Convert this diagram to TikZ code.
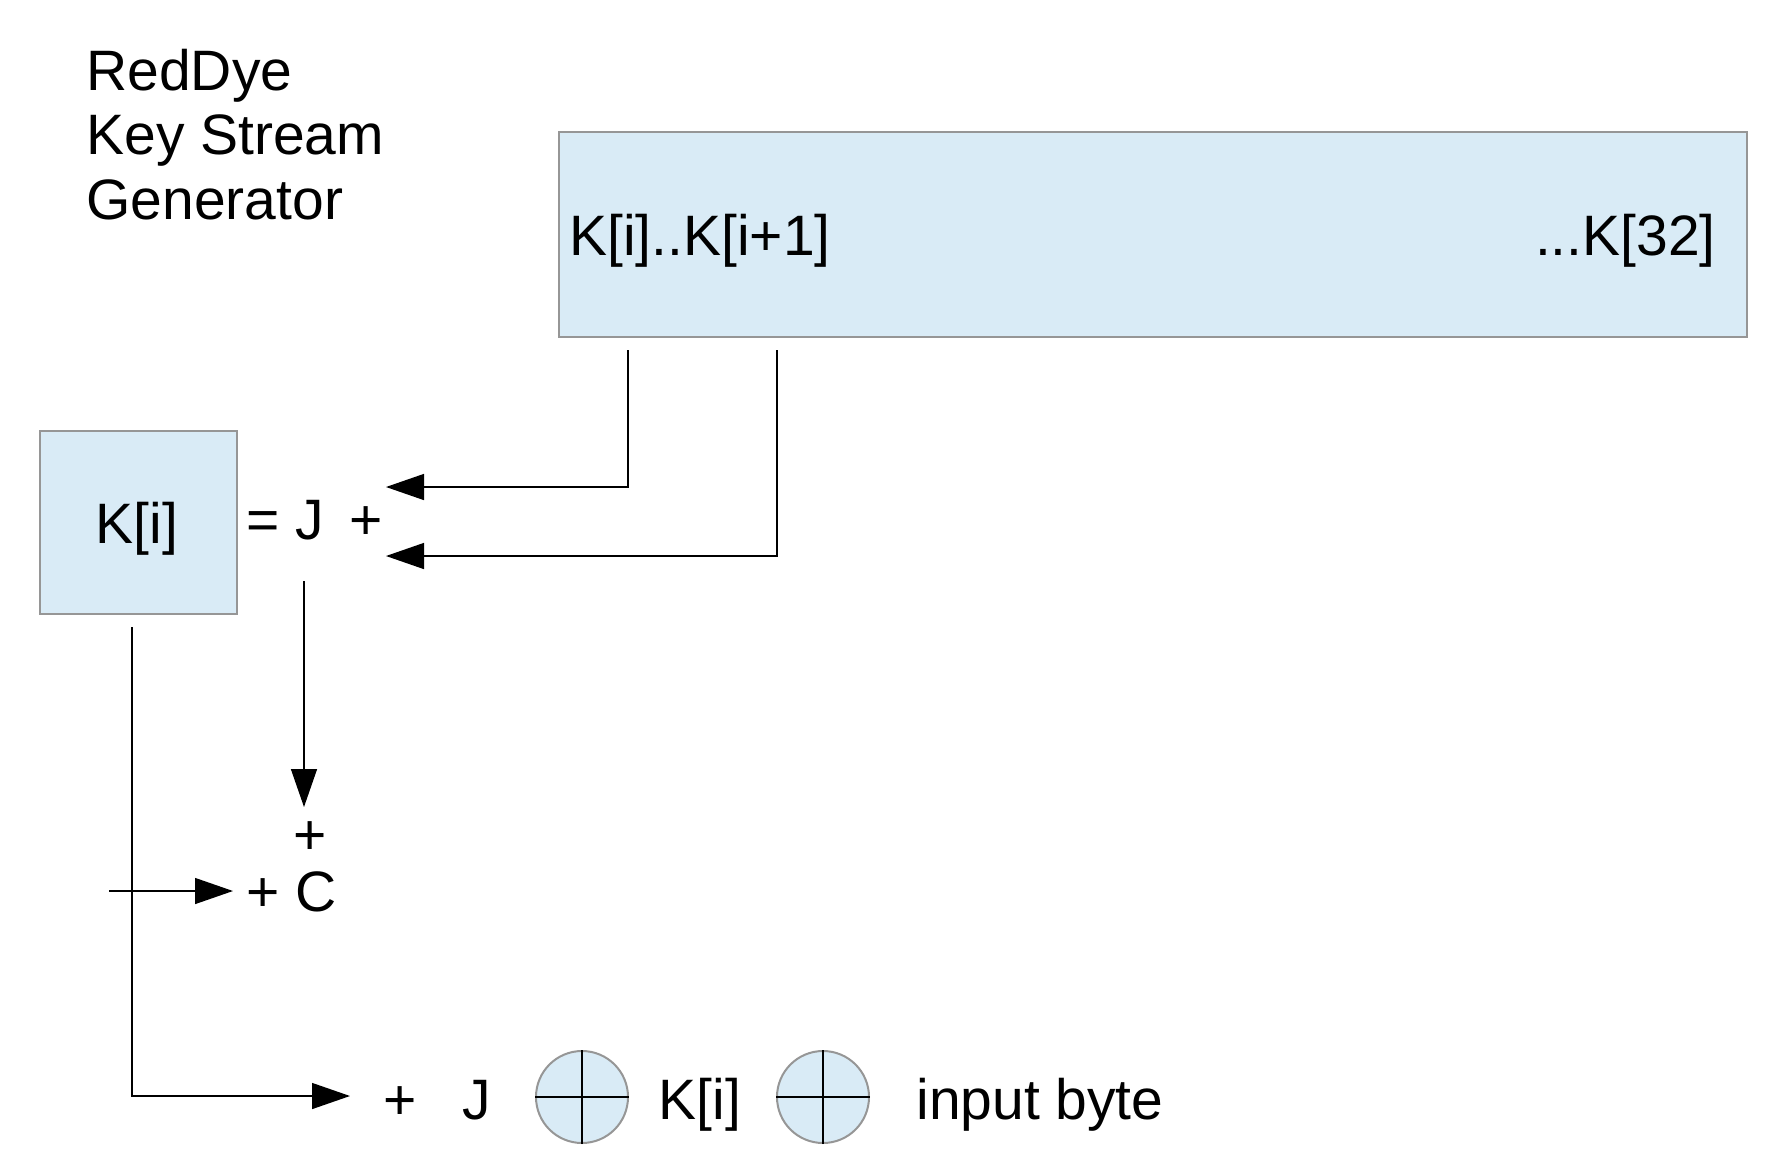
\documentclass[tikz,border=0pt]{standalone}
\usepackage{fontspec}
\setmainfont{Liberation Sans}
\usetikzlibrary{arrows.meta}
\definecolor{keyblue}{RGB}{217,235,246}
\definecolor{boxgray}{RGB}{150,150,150}

\begin{document}
\begin{tikzpicture}[x=0.5pt,y=-0.5pt,
  every node/.style={font=\fontsize{28.5pt}{34pt}\selectfont,inner sep=0pt},
  keybox/.style={draw=boxgray,line width=1pt,fill=keyblue,anchor=north west},
  xorc/.style={circle,draw=boxgray,line width=1pt,fill=keyblue,minimum size=46pt},
  wire/.style={line width=0.7pt},
  arr/.style={wire,-{Triangle[length=19pt,width=13pt]}}]
  \useasboundingbox (0,0) rectangle (1768,1158);
  \node[anchor=base west] (t1) at (86,90) {RedDye};
  \node[anchor=base west] (t2) at (86,154) {Key Stream};
  \node[anchor=base west] (t3) at (86,219) {Generator};
  \node[keybox,minimum width=594pt,minimum height=102.5pt] (keys) at (558,131) {};
  \node[anchor=base west] (kfirst) at (569,255) {K[i]..K[i+1]};
  \node[anchor=base east] (klast) at (1716,255) {...K[32]};
  \node[keybox,minimum width=98.5pt,minimum height=91.5pt] (kbox) at (39,430) {};
  \node[anchor=base] (ki) at (137,543) {K[i]};
  \node[anchor=base west] (eqj) at (246,539) {= J \,+};
  \node[anchor=base] (plus) at (310,854) {+};
  \node[anchor=base west] (plusc) at (246,911) {+ C};
  \node[anchor=base] (plusb) at (400,1119) {+};
  \node[anchor=base] (jb) at (477,1119) {J};
  \node[xorc] (x1) at (582,1097) {};
  \node[anchor=base] (kib) at (700,1119) {K[i]};
  \node[xorc] (x2) at (823,1097) {};
  \node[anchor=base west] (inb) at (916,1119) {input byte};
  \foreach \c in {x1,x2}
    \draw[wire] (\c.north) -- (\c.south) (\c.west) -- (\c.east);
  \coordinate (s1) at (628,350);
  \coordinate (s2) at (777,350);
  \coordinate (e1) at (386,487);
  \coordinate (e2) at (386,556);
  \coordinate (s3) at (304,581);
  \coordinate (e3) at (304,807);
  \coordinate (s4) at (132,627);
  \coordinate (e4) at (350,1096);
  \coordinate (s5) at (109,891);
  \draw[arr] (s1) |- (e1);
  \draw[arr] (s2) |- (e2);
  \draw[arr] (s3) -- (e3);
  \draw[arr,shorten >=6.5pt] (s5) -- (s5 -| plusc.west);
  \draw[arr] (s4) |- (e4);
\end{tikzpicture}
\end{document}
